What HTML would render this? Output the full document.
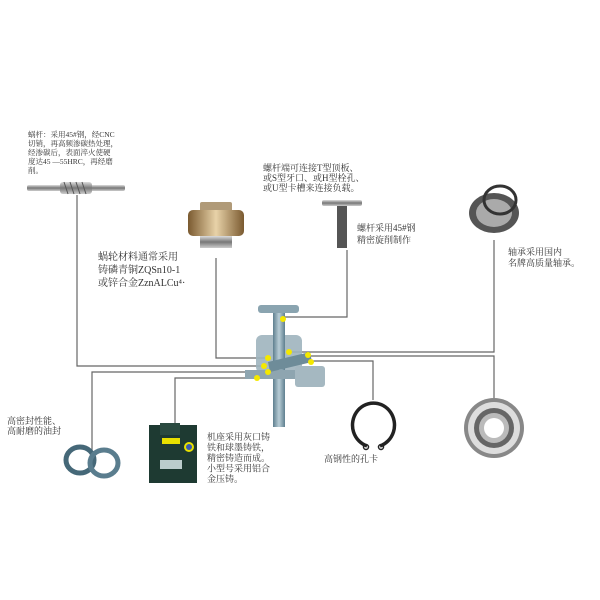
<!DOCTYPE html>
<html><head><meta charset="utf-8"><style>
html,body{margin:0;padding:0;background:#fff}
svg{display:block}
text{font-family:"Liberation Serif","Noto Serif CJK SC","Noto Sans CJK SC",serif;fill:#333}
</style></head><body>
<svg width="600" height="600" viewBox="0 0 600 600" xmlns="http://www.w3.org/2000/svg">
<defs>
<linearGradient id="steel" x1="0" y1="0" x2="0" y2="1"><stop offset="0" stop-color="#ddd"/><stop offset=".5" stop-color="#777"/><stop offset="1" stop-color="#ccc"/></linearGradient>
<linearGradient id="blue" x1="0" y1="0" x2="1" y2="0"><stop offset="0" stop-color="#5f7f8f"/><stop offset=".5" stop-color="#b8cdd6"/><stop offset="1" stop-color="#5f7f8f"/></linearGradient>
<linearGradient id="bronze" x1="0" y1="0" x2="1" y2="0"><stop offset="0" stop-color="#7a5a30"/><stop offset=".5" stop-color="#e8d2a8"/><stop offset="1" stop-color="#7a5a30"/></linearGradient>
</defs>
<g fill="none" stroke="#666" stroke-width="1.2">
<polyline points="77,195 77,366 264,366"/>
<polyline points="216,258 216,358 268,358"/>
<polyline points="347,250 347,317 283,317"/>
<polyline points="494,240 494,352 289,352"/>
<polyline points="308,356 494,356 494,398"/>
<polyline points="311,361 373,361 373,400"/>
<polyline points="268,372 92,372 92,450"/>
<polyline points="257,378 175,378 175,423"/>
</g>
<rect x="27" y="185" width="98" height="6" rx="2" fill="url(#steel)"/>
<rect x="60" y="182" width="32" height="12" rx="3" fill="url(#steel)"/>
<g stroke="#555" stroke-width="1"><line x1="64" y1="182" x2="68" y2="194"/><line x1="70" y1="182" x2="74" y2="194"/><line x1="76" y1="182" x2="80" y2="194"/><line x1="82" y1="182" x2="86" y2="194"/></g>
<text font-size="7.5"><tspan x="28" y="137">蜗杆：采用45#钢，经CNC</tspan><tspan x="28" y="146">切销，再高频渗碳热处理，</tspan><tspan x="28" y="155">经渗碳后，表面淬火使硬</tspan><tspan x="28" y="164">度达45 —55HRC，再经磨</tspan><tspan x="28" y="173">削。</tspan></text>
<rect x="200" y="202" width="32" height="10" rx="2" fill="#b09a78"/>
<rect x="188" y="210" width="56" height="26" rx="5" fill="url(#bronze)"/>
<rect x="200" y="236" width="32" height="12" fill="url(#steel)"/>
<text font-size="10"><tspan x="98" y="260">蜗轮材料通常采用</tspan><tspan x="98" y="273">铸磷青铜ZQSn10-1</tspan><tspan x="98" y="286">或锌合金ZznALCu⁴·</tspan></text>
<text font-size="9"><tspan x="263" y="171">螺杆端可连接T型顶板、</tspan><tspan x="263" y="181">或S型牙口、或H型栓孔、</tspan><tspan x="263" y="191">或U型卡槽来连接负载。</tspan></text>
<rect x="322" y="200" width="40" height="6" rx="2" fill="url(#steel)"/>
<rect x="337" y="206" width="10" height="42" fill="#555"/>
<text font-size="9"><tspan x="357" y="231">螺杆采用45#钢</tspan><tspan x="357" y="243">精密旋削制作</tspan></text>
<ellipse cx="494" cy="213" rx="25" ry="20" fill="#555"/>
<ellipse cx="494" cy="213" rx="18" ry="14" fill="#aaa"/>
<ellipse cx="500" cy="200" rx="16" ry="14" fill="none" stroke="#333" stroke-width="3"/>
<text font-size="9"><tspan x="508" y="255">轴承采用国内</tspan><tspan x="508" y="266">名牌高质量轴承。</tspan></text>
<rect x="273" y="312" width="12" height="115" fill="url(#blue)"/>
<rect x="258" y="305" width="41" height="8" rx="3" fill="#8aa4b0"/>
<rect x="256" y="335" width="46" height="38" rx="6" fill="#9fb4be" opacity=".9"/>
<rect x="273" y="335" width="12" height="92" fill="url(#blue)"/>
<rect x="245" y="370" width="55" height="9" fill="#8ea5b0"/>
<rect x="295" y="366" width="30" height="21" rx="3" fill="#a5b8c1"/>
<polygon points="268,362 310,352 312,362 270,372" fill="#6e8c99"/>
<g fill="#f4e800"><circle cx="283" cy="319" r="3"/><circle cx="268" cy="358" r="3"/><circle cx="289" cy="352" r="3"/><circle cx="308" cy="355" r="3"/><circle cx="311" cy="362" r="3"/><circle cx="264" cy="366" r="3"/><circle cx="268" cy="372" r="3"/><circle cx="257" cy="378" r="3"/></g>
<text font-size="9"><tspan x="7" y="424">高密封性能、</tspan><tspan x="7" y="434">高耐磨的油封</tspan></text>
<ellipse cx="80" cy="460" rx="14" ry="13" fill="none" stroke="#456878" stroke-width="5"/>
<ellipse cx="104" cy="463" rx="14" ry="13" fill="none" stroke="#5a7d8e" stroke-width="5"/>
<rect x="149" y="425" width="48" height="58" fill="#1e3a32"/>
<rect x="160" y="423" width="20" height="12" fill="#2a4a40"/>
<rect x="162" y="438" width="18" height="6" fill="#e8e000"/>
<circle cx="189" cy="447" r="5" fill="#e8e000"/><circle cx="189" cy="447" r="3" fill="#3a5ab0"/>
<rect x="160" y="460" width="22" height="9" fill="#bcc"/>
<text font-size="9"><tspan x="207" y="440">机座采用灰口铸</tspan><tspan x="207" y="450.5">铁和球墨铸铁，</tspan><tspan x="207" y="461">精密铸造而成。</tspan><tspan x="207" y="471.5">小型号采用铝合</tspan><tspan x="207" y="482">金压铸。</tspan></text>
<path d="M367,446 A21,22 0 1 1 380,446" fill="none" stroke="#222" stroke-width="3.5"/>
<circle cx="366" cy="447" r="2.5" fill="none" stroke="#222" stroke-width="1.5"/><circle cx="381" cy="447" r="2.5" fill="none" stroke="#222" stroke-width="1.5"/>
<text font-size="9" x="324" y="462">高钢性的孔卡</text>
<circle cx="494" cy="428" r="30" fill="#888"/>
<circle cx="494" cy="428" r="26" fill="#ddd"/>
<circle cx="494" cy="428" r="20" fill="#666"/>
<circle cx="494" cy="428" r="15" fill="#bbb"/>
<circle cx="494" cy="428" r="10" fill="#fff"/>
</svg>
</body></html>
